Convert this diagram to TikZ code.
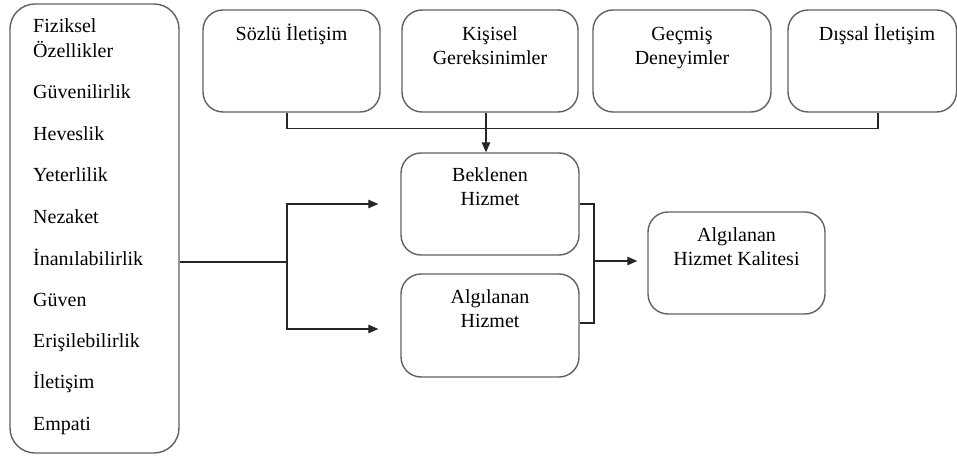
\documentclass[tikz,border=0pt]{standalone}
\usepackage{fontspec}
\setmainfont{Liberation Serif}
\usetikzlibrary{arrows.meta}
\begin{document}
\begin{tikzpicture}[x=1pt,y=-1pt,
  box/.style={draw=black!62, line width=1.4pt, rounded corners=20pt,
    minimum width=#1, minimum height=102pt, inner sep=0pt, fill=white},
  txt/.style={anchor=base, inner sep=0pt, font=\fontsize{20}{24}\selectfont, text=black},
  ltxt/.style={anchor=base west, inner sep=0pt, font=\fontsize{20}{24}\selectfont, text=black},
  conn/.style={draw=black!85, line width=1.1pt},
  arr/.style={conn, -{Triangle[length=10pt,width=8.5pt]}}]
\useasboundingbox (0,0) rectangle (957,457);
\clip (0,0) rectangle (957,457);
\fill[white] (0,0) rectangle (957,457);

% left box
\node[draw=black!62, line width=1.4pt, rounded corners=25pt, minimum width=169pt,
  minimum height=449pt, inner sep=0pt] (L) at (94.5,228.5) {};
\node[ltxt] (l1) at (33,33) {Fiziksel};
\node[ltxt] (l2) at (33,58) {Özellikler};
\node[ltxt] (l3) at (33,99) {Güvenilirlik};
\node[ltxt] (l4) at (33,141) {Heveslik};
\node[ltxt] (l5) at (33,182) {Yeterlilik};
\node[ltxt] (l6) at (33,223) {Nezaket};
\node[ltxt] (l7) at (33,265) {İnanılabilirlik};
\node[ltxt] (l8) at (33,306) {Güven};
\node[ltxt] (l9) at (33,347) {Erişilebilirlik};
\node[ltxt] (l10) at (33,388) {İletişim};
\node[ltxt] (l11) at (33,430) {Empati};

% top boxes
\node[box=177pt] (S) at (291.5,61) {};
\node[box=176pt] (K) at (490,61) {};
\node[box=178pt] (G) at (682,61) {};
\node[box=168.5pt] (D) at (872.25,61) {};
\node[txt] (s1) at (291.5,41) {Sözlü İletişim};
\node[txt] (k1) at (490,41) {Kişisel};
\node[txt] (k2) at (490,65) {Gereksinimler};
\node[txt] (g1) at (682,41) {Geçmiş};
\node[txt] (g2) at (682,65) {Deneyimler};
\node[txt] (d1) at (877,41) {Dışsal İletişim};

% middle boxes
\node[box=178pt] (B) at (490,204) {};
\node[txt] (b1) at (490,181) {Beklenen};
\node[txt] (b2) at (490,205) {Hizmet};
\node[box=178pt, minimum height=103pt] (A) at (490,325.5) {};
\node[txt] (a1) at (490,303) {Algılanan};
\node[txt] (a2) at (490,327) {Hizmet};
\node[box=177pt] (Q) at (736.5,263) {};
\node[txt] (q1) at (736.5,241) {Algılanan};
\node[txt] (q2) at (736.5,265) {Hizmet Kalitesi};

% connectors top
\draw[conn] ([xshift=-4.5pt]S.south) -- ++(0,16) -| ([xshift=5.75pt]D.south);
\draw[arr] ([xshift=-4pt]K.south) -- ([xshift=-4pt]B.north);

% left connectors
\coordinate (j1) at (287,262);
\draw[conn] (L.east |- j1) -- (j1);
\draw[arr, shorten >=22pt] (j1) |- (B.west);
\draw[arr, shorten >=22pt] (j1) |- ([yshift=-3.5pt]A.west);

% right connectors
\coordinate (j2) at (594,261);
\draw[conn] (B.east) -| (j2) |- ([yshift=2.5pt]A.east);
\draw[arr, shorten >=10pt] (j2) -- (Q.west |- j2);
\end{tikzpicture}
\end{document}
